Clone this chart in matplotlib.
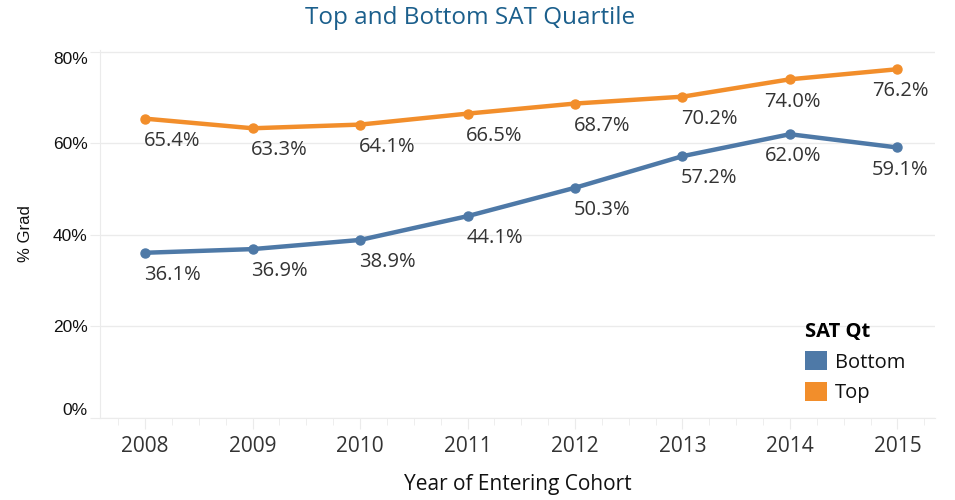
import matplotlib
matplotlib.use("Agg")
import matplotlib.pyplot as plt
from matplotlib.patches import Patch
from matplotlib.ticker import MultipleLocator, FuncFormatter

years = [2008, 2009, 2010, 2011, 2012, 2013, 2014, 2015]
bottom = [36.1, 36.9, 38.9, 44.1, 50.3, 57.2, 62.0, 59.1]
top = [65.4, 63.3, 64.1, 66.5, 68.7, 70.2, 74.0, 76.2]
series_names = ["Bottom", "Top"]
yticks = [0, 20, 40, 60, 80]

BLUE = "#4E79A7"
ORANGE = "#F28E2B"
GRID = "#EBEBEB"
TEXT = "#333333"
TFONT = ["Open Sans", "DejaVu Sans"]
AFONT = ["Liberation Sans", "DejaVu Sans"]

fig = plt.figure(figsize=(9.55, 5.0), dpi=100)
ax = fig.add_axes([100/955, (500-418)/500, (935-100)/955, (418-50)/500])

for vals, col in ((bottom, BLUE), (top, ORANGE)):
    ax.plot(years, vals, color=col, lw=3.2, marker="o", ms=6.5, solid_capstyle="round", zorder=3)
    n = len(years)
    for i, (x, v) in enumerate(zip(years, vals)):
        if i >= n - 2:
            ax.annotate(f"{v:.1f}%", (x, v), xytext=(2, -16), textcoords="offset points",
                        ha="center", va="center", fontsize=14.5, color=TEXT, family=TFONT, zorder=4)
        else:
            ax.annotate(f"{v:.1f}%", (x, v), xytext=(-1, -16), textcoords="offset points",
                        ha="left", va="center", fontsize=14.5, color=TEXT, family=TFONT, zorder=4)

ax.set_xlim(2007.58, 2015.35)
ax.set_ylim(0, 80.4)
ax.set_xticks(years)
ax.set_xticklabels([str(y) for y in years], family=TFONT, fontsize=15, color=TEXT)
ax.xaxis.set_minor_locator(MultipleLocator(0.25))
ax.tick_params(axis="x", which="major", length=8, color=GRID, pad=5)
ax.tick_params(axis="x", which="minor", length=5, color=GRID)

ax.set_yticks(yticks)
ax.yaxis.set_major_formatter(FuncFormatter(lambda v, p: f"{v:.0f}%"))
ax.tick_params(axis="y", length=7, color=GRID, labelsize=12.5, labelcolor="#111111", pad=2)
for lab in ax.get_yticklabels():
    lab.set_family(AFONT)
ylabs = ax.get_yticklabels()
ylabs[0].set_va("bottom")
ylabs[-1].set_va("top")

ax.grid(axis="y", color=GRID, lw=1)
ax.set_axisbelow(True)
for s in ("top", "right"):
    ax.spines[s].set_visible(False)
ax.spines["left"].set_color(GRID)
ax.spines["bottom"].set_color(GRID)

ax.set_ylabel("% Grad", family=AFONT, fontsize=12, color="#111111", labelpad=14)
ax.set_xlabel("Year of Entering Cohort", family=TFONT, fontsize=15, color="#111111", labelpad=12)

fig.text(470/955, 1 - 18/500, "Top and Bottom SAT Quartile", ha="center", va="center",
         fontsize=17.5, color="#1B5F8C", family=TFONT)

handles = [Patch(facecolor=BLUE, edgecolor="none"), Patch(facecolor=ORANGE, edgecolor="none")]
leg = ax.legend(handles, series_names, title="SAT Qt", loc="upper left",
                bbox_to_anchor=(795/955, 1 - 312/500), bbox_transform=fig.transFigure,
                frameon=False, prop={"family": TFONT, "size": 14.5},
                handlelength=1.1, handleheight=1.1, handletextpad=0.4,
                labelspacing=0.45, borderpad=0, alignment="left")
leg.get_title().set_fontsize(14.5)
leg.get_title().set_fontweight("bold")
leg.get_title().set_family(TFONT)
for t in leg.get_texts():
    t.set_color("#111111")

fig.savefig("out.png", dpi=100)
